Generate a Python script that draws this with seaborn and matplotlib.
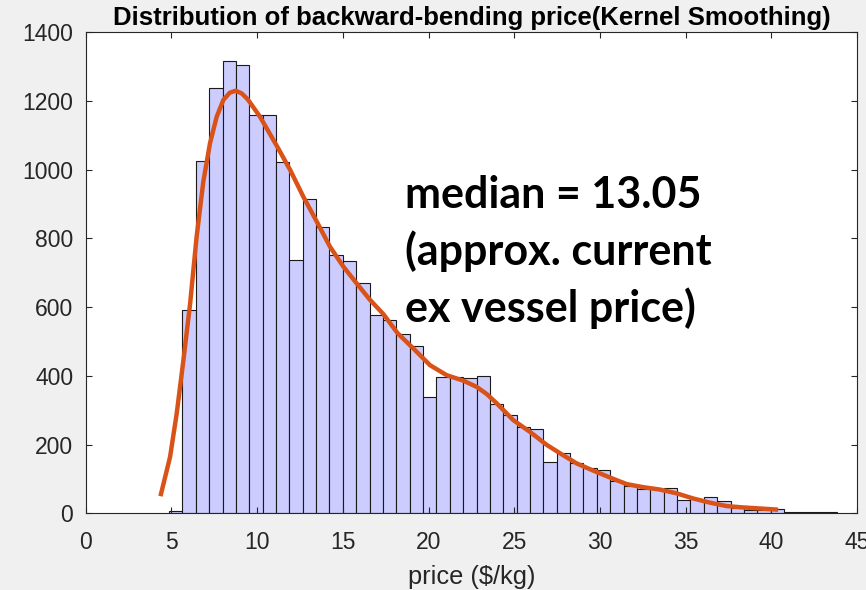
import numpy as np
import pandas as pd
import matplotlib
matplotlib.use('Agg')
import matplotlib.pyplot as plt
import seaborn as sns

# istogramma: 50 classi larghe ~0.78 a partire da 4.86
bin_start = 4.86
bin_width = 0.78
counts = [8, 591, 1026, 1239, 1315, 1305, 1158, 1158, 1023, 737,
          914, 832, 753, 735, 669, 577, 564, 522, 487, 339,
          397, 396, 393, 400, 317, 287, 252, 245, 148, 176,
          146, 133, 127, 94, 79, 72, 70, 75, 38, 41,
          46, 35, 14, 11, 9, 13, 4, 5, 3, 3]

# curva kernel
kde_x = [4.39, 4.92, 5.31, 5.70, 6.09, 6.47, 6.86, 7.25, 7.64, 8.03,
         8.40, 8.75, 9.10, 9.45, 10.17, 11.14, 11.92, 12.70, 13.48, 14.25,
         15.03, 15.81, 16.59, 17.36, 18.20, 19.11, 20.09, 21.06, 22.03, 22.81,
         23.40, 23.98, 24.95, 25.92, 26.90, 27.76, 28.65, 29.62, 30.59, 31.56,
         32.53, 33.51, 34.48, 35.45, 36.42, 37.40, 38.37, 39.34, 40.27]
kde_y = [56, 164, 291, 446, 610, 805, 965, 1077, 1154, 1203,
         1224, 1230, 1222, 1205, 1154, 1070, 1000, 921, 849, 776,
         718, 669, 621, 580, 524, 480, 431, 402, 386, 368,
         347, 320, 271, 237, 199, 172, 145, 124, 104, 85,
         76, 69, 58, 43, 31, 21, 17, 14, 11]

annot_lines = ['median = 13.05', '(approx. current', 'ex vessel price)']
annot_y = [888, 722, 556]

n_bins = len(counts)
bin_end = bin_start + n_bins * bin_width
hist_df = pd.DataFrame({'price': bin_start + bin_width * (np.arange(n_bins) + 0.5),
                        'count': counts})
kde_df = pd.DataFrame({'price': kde_x, 'density': kde_y})

plt.rcParams['font.family'] = ['Liberation Sans', 'DejaVu Sans']
fig = plt.figure(figsize=(8.66, 5.90), dpi=100, facecolor='#f0f0f0')
ax = fig.add_axes([0.099, 0.130, 0.8906, 0.8153])
ax.set_facecolor('white')

sns.histplot(data=hist_df, x='price', weights='count', bins=n_bins,
             binrange=(bin_start, bin_end), color='#ccccff', alpha=1,
             edgecolor='#1a1a1a', linewidth=0.8, ax=ax)
sns.lineplot(data=kde_df, x='price', y='density', sort=False, color='#d95319',
             linewidth=3.2, ax=ax)

for line, yv in zip(annot_lines, annot_y):
    ax.text(18.63, yv, line, fontsize=31, fontweight='bold', family=['Lato', 'DejaVu Sans'],
            ha='left', va='baseline', color='black')

ax.set_xlim(0, 45)
ax.set_ylim(0, 1400)
ax.set_xticks(range(0, 46, 5))
ax.set_yticks(range(0, 1401, 200))
ax.tick_params(direction='in', top=True, right=True, length=4, width=0.8,
               colors='#262626', labelsize=16.5)
ax.tick_params(axis='x', pad=13)
ax.tick_params(axis='y', pad=9)
for s in ax.spines.values():
    s.set_color('#262626')
    s.set_linewidth(0.8)
ax.set_xlabel('price ($/kg)', fontsize=18.3, color='#262626', labelpad=8)
ax.set_ylabel('')
ax.set_title('Distribution of backward-bending price(Kernel Smoothing)',
             fontsize=18.5, fontweight='bold', color='black', pad=5)

fig.savefig('out.png', dpi=100, facecolor=fig.get_facecolor())
